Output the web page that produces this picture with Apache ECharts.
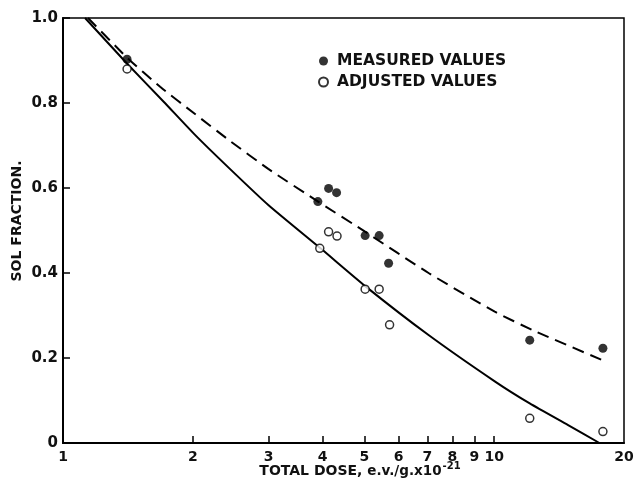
<!DOCTYPE html>
<html>
<head>
<meta charset="utf-8">
<script src="https://cdn.jsdelivr.net/npm/echarts@6/dist/echarts.min.js"></script>
<style>html,body{margin:0;padding:0;background:#fff;}#c{width:638px;height:485px;}</style>
</head>
<body>
<div id="c"></div>
<script>
// Total dose (e.v./g x 10^-21) vs sol fraction
var xTicks = [1, 2, 3, 4, 5, 6, 7, 8, 9, 10, 20];
var measuredDose = [1.408, 3.90, 4.13, 4.31, 5.02, 5.41, 5.69, 12.09, 17.87];
var measuredSol  = [0.903, 0.568, 0.599, 0.589, 0.488, 0.488, 0.423, 0.242, 0.223];
var adjustedDose = [1.408, 3.94, 4.13, 4.32, 5.02, 5.41, 5.72, 12.09, 17.87];
var adjustedSol  = [0.880, 0.458, 0.497, 0.487, 0.362, 0.362, 0.278, 0.058, 0.027];
var solidDose = [1.125, 1.407, 1.712, 2.024, 2.438, 2.993, 3.956, 5.039, 7.043, 10.03, 12.09, 14.84, 17.54];
var solidSol  = [1.000, 0.893, 0.803, 0.725, 0.645, 0.560, 0.458, 0.368, 0.254, 0.145, 0.093, 0.042, 0.000];
var dashDose = [1.143, 1.407, 1.680, 2.024, 2.438, 2.993, 3.905, 5.039, 7.043, 10.03, 12.32, 18.19];
var dashSol  = [1.000, 0.907, 0.838, 0.774, 0.711, 0.645, 0.568, 0.496, 0.400, 0.309, 0.265, 0.191];

function pairs(a, b) { return a.map(function (v, i) { return [v, b[i]]; }); }

var FONT = 'DejaVu Sans';
var chart = echarts.init(document.getElementById('c'), null, {renderer: 'canvas'});
chart.setOption({
  animation: false,
  backgroundColor: '#fff',
  grid: {left: 63, top: 18, right: 14, bottom: 42, show: true, borderColor: '#000', borderWidth: 1.5, backgroundColor: 'transparent'},
  legend: {
    data: ['MEASURED VALUES', 'ADJUSTED VALUES'],
    orient: 'vertical', left: 318, top: 53, padding: 0, itemGap: 5,
    itemWidth: 9, itemHeight: 9, icon: 'circle',
    textStyle: {fontFamily: FONT, fontWeight: 'bold', fontSize: 15.5, color: '#111', padding: [0, 0, 0, 4]},
    selectedMode: false
  },
  xAxis: {
    type: 'log', logBase: 10, min: 1, max: 20,
    axisLine: {lineStyle: {color: '#000', width: 2}},
    axisTick: {inside: true, length: 7, customValues: xTicks.slice(1, 10), lineStyle: {color: '#000', width: 1.5}},
    axisLabel: {customValues: xTicks, margin: 7, fontFamily: FONT, fontWeight: 'bold', fontSize: 14, color: '#111'},
    splitLine: {show: false}, minorTick: {show: false}
  },
  yAxis: {
    type: 'value', min: 0, max: 1.0, interval: 0.2,
    axisLine: {show: true, lineStyle: {color: '#000', width: 2}},
    axisTick: {show: true, inside: true, length: 7, lineStyle: {color: '#000', width: 1.5}},
    axisLabel: {margin: 5, fontFamily: FONT, fontWeight: 'bold', fontSize: 15, color: '#111',
      formatter: function (v) { return v === 0 ? '0' : v.toFixed(1); }},
    splitLine: {show: false}
  },
  graphic: [
    {type: 'text', x: 17, y: 221, rotation: Math.PI / 2,
      style: {text: 'SOL FRACTION.', font: 'bold 14px "DejaVu Sans"', fill: '#111', align: 'center', verticalAlign: 'middle'}},
    {type: 'text', x: 360, y: 471,
      style: {
        text: '{a|TOTAL DOSE, }{b|e.v./g.x10}{c|-21}',
        align: 'center', verticalAlign: 'middle',
        rich: {
          a: {font: 'bold 14px "DejaVu Sans"', fill: '#111'},
          b: {font: 'bold 13.5px "DejaVu Sans"', fill: '#111'},
          c: {font: 'bold 10px "DejaVu Sans"', fill: '#111', padding: [0, 0, 9, 1]}
        }
      }}
  ],
  series: [
    {type: 'line', name: 'dashed', data: pairs(dashDose, dashSol), smooth: 0.2, symbol: 'none',
      lineStyle: {color: '#000', width: 2, type: [12, 7]}, z: 2},
    {type: 'line', name: 'solid', data: pairs(solidDose, solidSol), smooth: 0.2, symbol: 'none',
      lineStyle: {color: '#000', width: 2}, z: 2},
    {type: 'scatter', name: 'MEASURED VALUES', data: pairs(measuredDose, measuredSol), symbol: 'circle', symbolSize: 9,
      itemStyle: {color: '#000'}, z: 3},
    {type: 'scatter', name: 'ADJUSTED VALUES', data: pairs(adjustedDose, adjustedSol), symbol: 'circle', symbolSize: 8,
      itemStyle: {color: '#fff', borderColor: '#000', borderWidth: 1.5}, z: 4}
  ]
});
</script>
</body>
</html>
